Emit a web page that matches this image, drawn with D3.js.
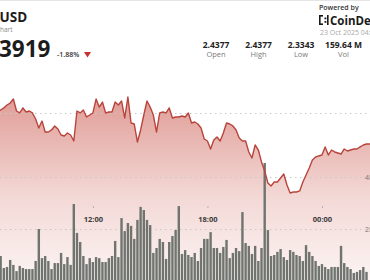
<!DOCTYPE html>
<html>
<head>
<meta charset="utf-8">
<script src="https://cdn.jsdelivr.net/npm/d3@7"></script>
<style>
  body { margin: 0; background: #fff; overflow: hidden; }
  svg { display: block; font-family: "Open Sans", "Noto Sans", sans-serif; }
</style>
</head>
<body>
<div id="chart"></div>
<script>
// price every 10 min from 22 Oct 07:00
const priceStart = new Date(2025, 9, 22, 7, 0)
const prices = [
  2.4215, 2.4237, 2.4259, 2.4291, 2.4312, 2.4355, 2.4226, 2.4205, 2.4259, 2.4215,
  2.4226, 2.4205, 2.4140, 2.4043, 2.4118, 2.4000, 2.4000, 2.4022, 2.4065, 2.4032,
  2.3968, 2.3957, 2.3989, 2.3968, 2.3903, 2.4226, 2.4205, 2.4237, 2.4162, 2.4183,
  2.4205, 2.4355, 2.4269, 2.4323, 2.4205, 2.4215, 2.4215, 2.4323, 2.4291, 2.4334,
  2.4151, 2.4377, 2.4097, 2.4086, 2.3892, 2.4022, 2.4183, 2.4334, 2.4269, 2.4183,
  2.4000, 2.4205, 2.4215, 2.4205, 2.4259, 2.4151, 2.4162, 2.4162, 2.4172, 2.4162,
  2.4205, 2.4097, 2.4108, 2.4086, 2.4043, 2.3925, 2.3903, 2.3817, 2.3914, 2.3946,
  2.3903, 2.3989, 2.4097, 2.4086, 2.4065, 2.4022, 2.3935, 2.3903, 2.3903, 2.3785,
  2.3720, 2.3860, 2.3806, 2.3677, 2.3580, 2.3451, 2.3418, 2.3462, 2.3462, 2.3505,
  2.3548, 2.3429, 2.3343, 2.3354, 2.3354, 2.3365, 2.3462, 2.3537, 2.3612, 2.3699,
  2.3731, 2.3742, 2.3752, 2.3839, 2.3752, 2.3806, 2.3785, 2.3774, 2.3763, 2.3817,
  2.3795, 2.3806, 2.3817, 2.3817, 2.3839, 2.3860, 2.3871, 2.3871, 2.3871
]

// volume (millions) every 10 min from 22 Oct 07:10
const volStart = new Date(2025, 9, 22, 7, 10)
const volumes = [
  0.96, 0.50, 0.54, 0.81, 0.62, 0.38, 0.58, 0.50, 0.46, 0.46,
  0.46, 0.77, 2.00, 0.88, 0.96, 0.77, 0.46, 0.69, 0.69, 1.08,
  0.65, 0.92, 0.62, 2.96, 1.85, 1.50, 0.96, 0.65, 0.88, 0.73,
  0.92, 0.88, 0.73, 0.73, 0.88, 0.96, 1.54, 0.92, 2.42, 1.92,
  2.23, 2.12, 1.62, 2.35, 2.85, 2.73, 2.35, 2.15, 1.08, 1.27,
  1.62, 1.50, 0.85, 1.50, 1.73, 1.96, 2.88, 1.04, 1.19, 1.00,
  0.92, 1.08, 0.77, 1.27, 1.62, 1.62, 1.88, 1.27, 1.27, 1.08,
  1.31, 1.58, 0.88, 1.08, 1.27, 1.15, 2.65, 1.46, 1.35, 1.04,
  1.35, 0.77, 1.27, 4.54, 1.96, 0.96, 1.00, 1.12, 1.23, 0.92,
  0.81, 1.19, 1.12, 1.00, 0.96, 0.77, 1.38, 1.12, 0.96, 0.77,
  0.58, 0.65, 0.54, 0.46, 0.54, 0.54, 0.54, 1.35, 0.69, 0.54,
  0.46, 0.31, 0.35, 0.42, 0.54, 0.35
]

const timeTicks = [new Date(2025, 9, 22, 12, 0), new Date(2025, 9, 22, 18, 0), new Date(2025, 9, 23, 0, 0)]
const priceGrid = [2.42]
const volTicks = [2, 4]

const stats = [
  { label: "Open", value: "2.4377" },
  { label: "High", value: "2.4377" },
  { label: "Low", value: "2.3343" },
  { label: "Vol", value: "159.64 M" }
]

const width = 370
const height = 280
const step = 10 * 60 * 1000

const svg = d3.select("#chart")
  .append("svg")
  .attr("width", width)
  .attr("height", height)

const x = d3.scaleTime()
  .domain([new Date(2025, 9, 22, 7, 8), new Date(2025, 9, 23, 2, 31)])
  .range([0, width])

const y = d3.scaleLinear()
  .domain([2.3343, 2.4377])
  .range([193, 97])

const yVol = d3.scaleLinear()
  .domain([0, 4])
  .range([281, 177])

const priceData = prices.map((p, i) => ({ t: new Date(+priceStart + i * step), p: p }))
const volData = volumes.map((v, i) => ({ t: new Date(+volStart + i * step), v: v }))

// gradient for the area
const grad = svg.append("defs").append("linearGradient")
  .attr("id", "areaFill")
  .attr("gradientUnits", "userSpaceOnUse")
  .attr("x1", 0).attr("x2", 0)
  .attr("y1", 95).attr("y2", 280)
grad.append("stop").attr("offset", 0).attr("stop-color", "#d4756c").attr("stop-opacity", 0.72)
grad.append("stop").attr("offset", 0.55).attr("stop-color", "#d4756c").attr("stop-opacity", 0.28)
grad.append("stop").attr("offset", 1).attr("stop-color", "#d4756c").attr("stop-opacity", 0.08)

// top border
svg.append("line")
  .attr("x1", 0).attr("x2", width)
  .attr("y1", 0.5).attr("y2", 0.5)
  .attr("stroke", "#e4e4e4")

// area under price
svg.append("path")
  .datum(priceData)
  .attr("fill", "url(#areaFill)")
  .attr("d", d3.area()
    .x(d => x(d.t))
    .y0(height)
    .y1(d => y(d.p)))

// dotted grid lines
const gridY = priceGrid.map(y).concat(volTicks.map(yVol))
svg.append("g")
  .selectAll("line")
  .data(gridY)
  .enter().append("line")
  .attr("x1", 0).attr("x2", width)
  .attr("y1", d => Math.round(d) + 0.5)
  .attr("y2", d => Math.round(d) + 0.5)
  .attr("stroke", "#c8c8c8")
  .attr("stroke-dasharray", "1.5,3.5")

// volume bars
const barW = 2.4
svg.append("g")
  .selectAll("rect")
  .data(volData)
  .enter().append("rect")
  .attr("x", d => x(d.t) - barW / 2)
  .attr("width", barW)
  .attr("y", d => yVol(d.v))
  .attr("height", d => yVol(0) - yVol(d.v))
  .attr("fill", "#6f746f")

// price line
svg.append("path")
  .datum(priceData)
  .attr("fill", "none")
  .attr("stroke", "#b8443c")
  .attr("stroke-width", 1.4)
  .attr("stroke-linejoin", "round")
  .attr("d", d3.line()
    .x(d => x(d.t))
    .y(d => y(d.p)))

// time axis
const xAxis = svg.append("g")
  .attr("transform", "translate(0,206)")
  .call(d3.axisBottom(x)
    .tickValues(timeTicks)
    .tickSize(2)
    .tickPadding(9)
    .tickFormat(d3.timeFormat("%H:%M")))
xAxis.select(".domain").remove()
xAxis.selectAll("line").attr("stroke", "#b0b0b0")
xAxis.selectAll("text")
  .attr("font-family", "Open Sans, sans-serif")
  .attr("font-size", 7.5)
  .attr("font-weight", 700)
  .attr("fill", "#3a3a3a")

// volume labels at right edge (cut)
svg.append("g")
  .selectAll("text")
  .data(volTicks)
  .enter().append("text")
  .attr("x", 365)
  .attr("y", d => yVol(d) + 2.5)
  .attr("font-size", 7)
  .attr("fill", "#777")
  .text(d => d + "M")

// header
svg.append("text")
  .attr("x", -0.5).attr("y", 22)
  .attr("font-size", 13.5).attr("font-weight", 700).attr("fill", "#1c1c1c")
  .text("USD")

svg.append("text")
  .attr("x", 0).attr("y", 32)
  .attr("font-size", 6.5).attr("fill", "#8a8a8a")
  .text("hart")

svg.append("text")
  .attr("x", -1).attr("y", 57)
  .attr("font-size", 22.5).attr("font-weight", 700).attr("fill", "#1c1c1c")
  .text("3919")

svg.append("text")
  .attr("x", 57).attr("y", 57)
  .attr("font-size", 7).attr("font-weight", 600).attr("fill", "#333")
  .text("-1.88%")

svg.append("path")
  .attr("d", "M84,52 L91,52 L87.5,57.5 Z")
  .attr("fill", "#c8302b")

// stats
const statX = d3.scalePoint().domain(stats.map(d => d.label)).range([216, 343.5])
const statG = svg.append("g")
  .selectAll("g")
  .data(stats)
  .enter().append("g")
  .attr("text-anchor", "middle")
  .attr("transform", d => "translate(" + statX(d.label) + ",0)")
statG.append("text")
  .attr("y", 47.5)
  .attr("font-size", 8.5).attr("font-weight", 700).attr("fill", "#222")
  .text(d => d.value)
statG.append("text")
  .attr("y", 56.5)
  .attr("font-size", 7.5).attr("fill", "#7a7a7a")
  .text(d => d.label)

// powered by
svg.append("text")
  .attr("x", 319).attr("y", 10)
  .attr("font-size", 7).attr("font-weight", 600).attr("fill", "#333")
  .text("Powered by")

const logo = svg.append("g").attr("fill", "#1a1a1a")
logo.append("rect").attr("x", 319).attr("y", 15).attr("width", 1.6).attr("height", 10)
logo.append("rect").attr("x", 319).attr("y", 15).attr("width", 4).attr("height", 1.6)
logo.append("rect").attr("x", 319).attr("y", 23.4).attr("width", 4).attr("height", 1.6)
logo.append("rect").attr("x", 324.5).attr("y", 17.5).attr("width", 1.8).attr("height", 1.8)
logo.append("rect").attr("x", 324.5).attr("y", 21).attr("width", 1.8).attr("height", 1.8)
logo.append("rect").attr("x", 327).attr("y", 15).attr("width", 1.6).attr("height", 10)

svg.append("text")
  .attr("x", 330).attr("y", 24.5)
  .attr("font-size", 11.5).attr("font-weight", 700).attr("fill", "#1a1a1a")
  .text("CoinDesk")

svg.append("text")
  .attr("x", 320).attr("y", 34.5)
  .attr("font-size", 7).attr("fill", "#a8a8a8")
  .text("23 Oct 2025 04:30")
</script>
</body>
</html>
